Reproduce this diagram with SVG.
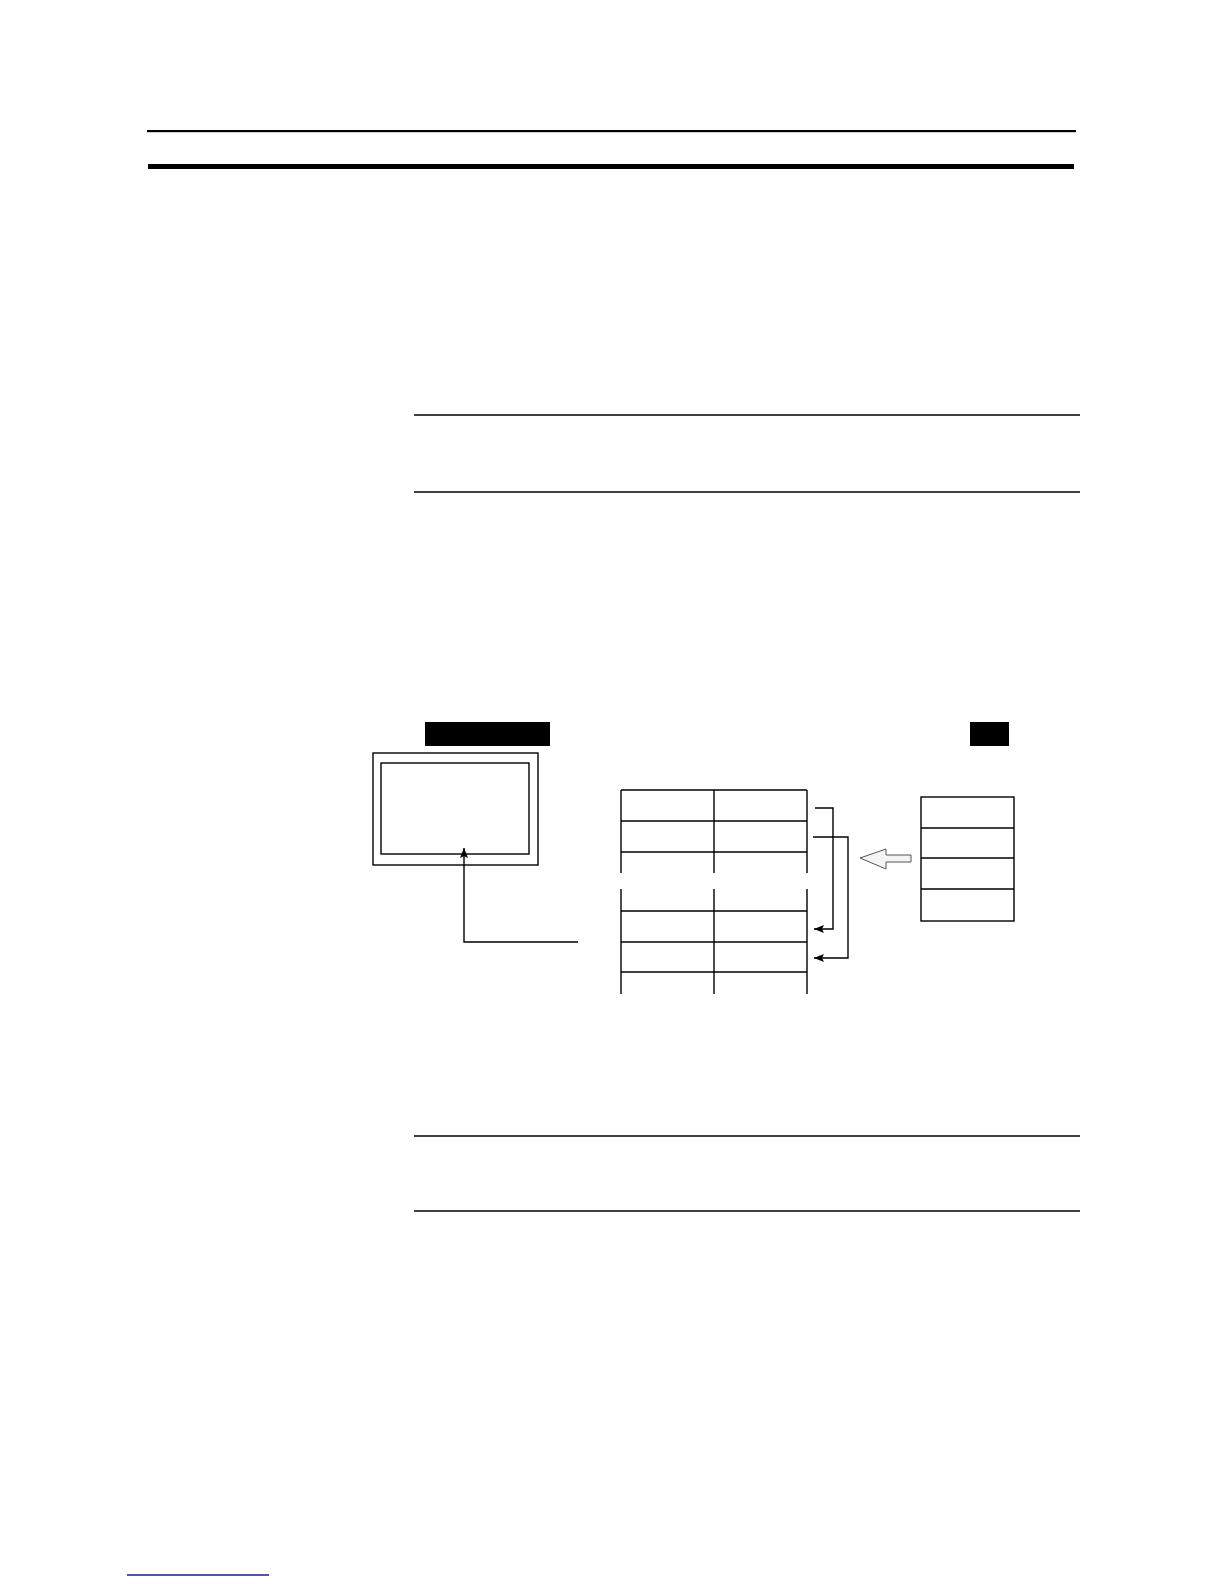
<svg xmlns="http://www.w3.org/2000/svg" width="1224" height="1584" viewBox="0 0 1224 1584">
<style>
.ln{stroke:#000;stroke-width:1.4;fill:none}
.rule{stroke:#000;stroke-width:1.3}
.cell{stroke:#000;stroke-width:1.4;fill:none}
.tag{fill:#000}
</style>
<defs>
<marker id="ah" viewBox="0 0 10 8" refX="10" refY="4" markerWidth="10" markerHeight="8" markerUnits="userSpaceOnUse" orient="auto">
<path d="M0,0 L10,4 L0,8 L2,4 Z" fill="#000"/>
</marker>
</defs>
<rect width="1224" height="1584" fill="#fff"/>
<g id="page-rules">
<rect x="147" y="130" width="929" height="2.2" fill="#000"/>
<rect x="148" y="164" width="926" height="5" fill="#000"/>
<line class="rule" x1="414" y1="415" x2="1080" y2="415"/>
<line class="rule" x1="414" y1="492" x2="1080" y2="492"/>
<line class="rule" x1="414" y1="1136" x2="1080" y2="1136"/>
<line class="rule" x1="414" y1="1211" x2="1080" y2="1211"/>
<line x1="127" y1="1575" x2="269" y2="1575" stroke="#1a1a9a" stroke-width="1.5"/>
</g>
<g id="label-left"><rect class="tag" x="425" y="722" width="125" height="24"/></g>
<g id="label-right"><rect class="tag" x="970" y="722" width="39" height="24"/></g>
<g id="screen">
<rect class="cell" x="373" y="753" width="165" height="112"/>
<rect class="cell" x="381" y="763" width="148" height="91"/>
</g>
<g id="table">
<line class="cell" x1="621" y1="790" x2="807" y2="790"/>
<line class="cell" x1="621" y1="821" x2="807" y2="821"/>
<line class="cell" x1="621" y1="852" x2="807" y2="852"/>
<line class="cell" x1="621" y1="790" x2="621" y2="873"/>
<line class="cell" x1="714" y1="790" x2="714" y2="873"/>
<line class="cell" x1="807" y1="790" x2="807" y2="873"/>
<line class="cell" x1="621" y1="889" x2="621" y2="994"/>
<line class="cell" x1="714" y1="889" x2="714" y2="994"/>
<line class="cell" x1="807" y1="889" x2="807" y2="994"/>
<line class="cell" x1="621" y1="911" x2="807" y2="911"/>
<line class="cell" x1="621" y1="942" x2="807" y2="942"/>
<line class="cell" x1="621" y1="972" x2="807" y2="972"/>
</g>
<g id="stack">
<rect class="cell" x="921" y="797" width="93" height="124"/>
<line class="cell" x1="921" y1="828" x2="1014" y2="828"/>
<line class="cell" x1="921" y1="858" x2="1014" y2="858"/>
<line class="cell" x1="921" y1="889" x2="1014" y2="889"/>
</g>
<g id="connectors">
<polyline class="ln" points="578,942 464,942 464,848" marker-end="url(#ah)"/>
<polyline class="ln" points="815,808 833,808 833,929 814,929" marker-end="url(#ah)"/>
<polyline class="ln" points="813,837 848,837 848,958 814,958" marker-end="url(#ah)"/>
<path d="M860,858 L886,849 L886,855 L911,855 L911,862 L886,862 L886,869 Z" fill="#f4f4f4" stroke="#555" stroke-width="1"/>
</g>
</svg>
